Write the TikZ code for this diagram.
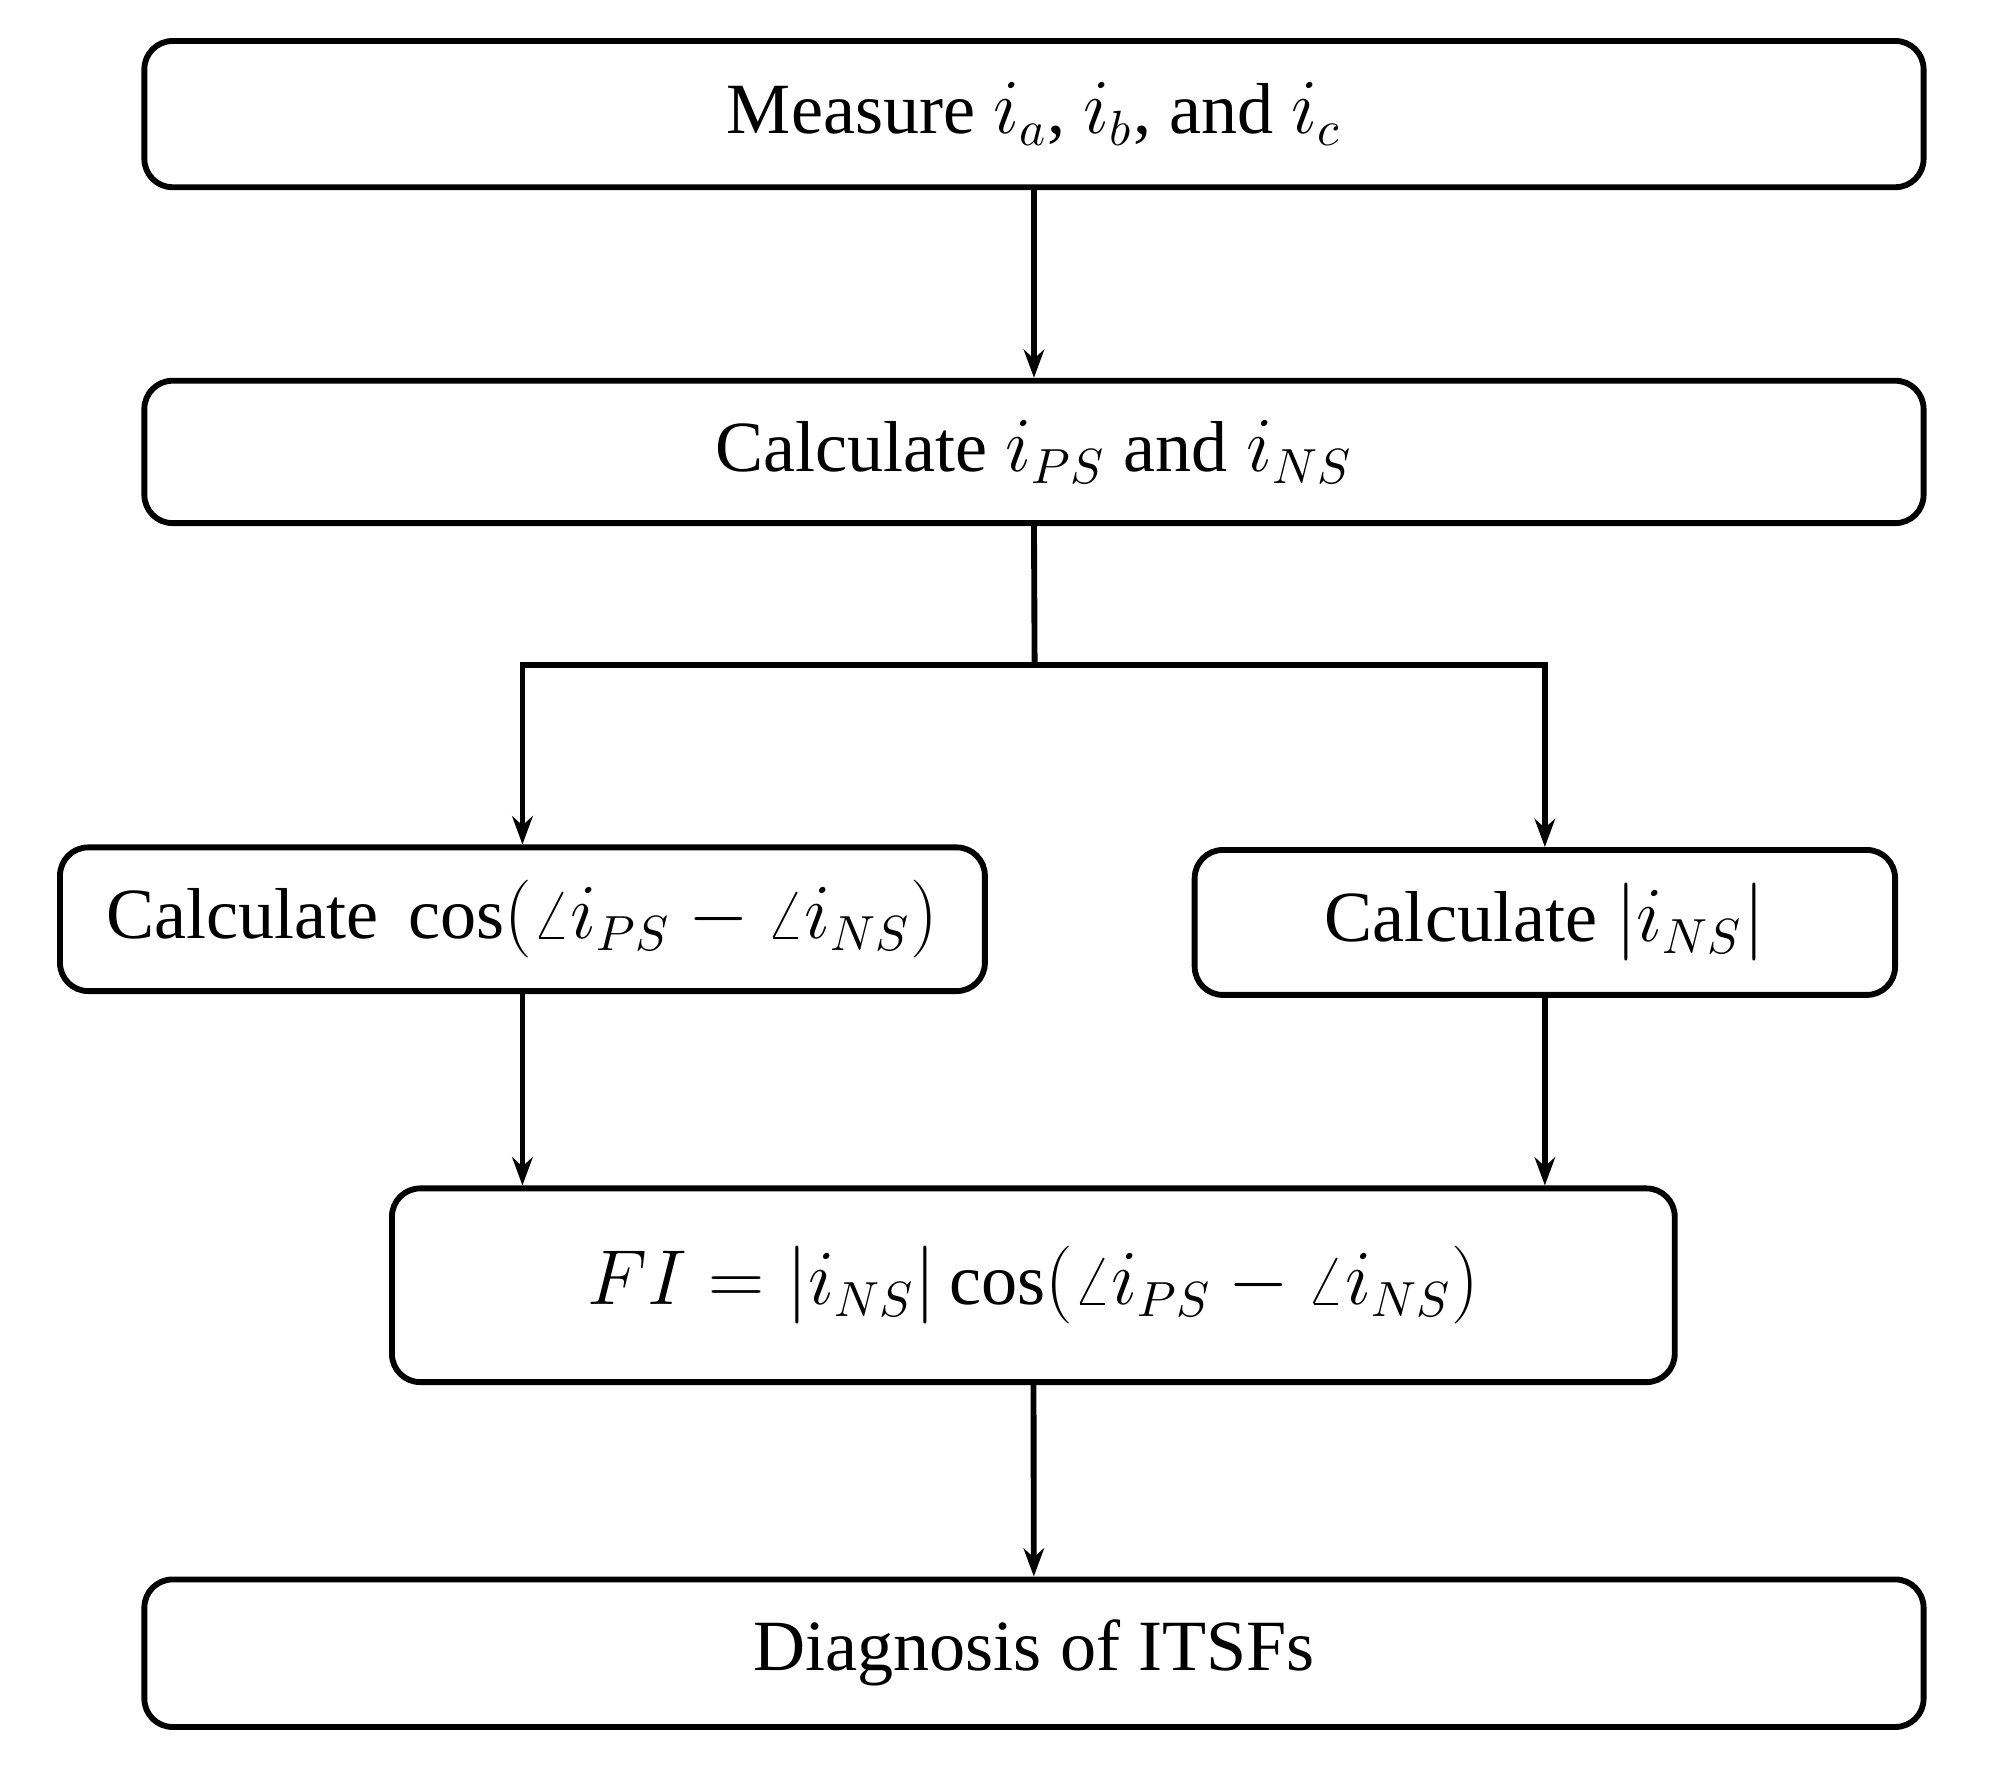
\documentclass[tikz,border=0pt]{standalone}
\usepackage{fontspec}
\setmainfont{Liberation Serif}
\usetikzlibrary{arrows.meta}
\begin{document}
\begin{tikzpicture}[x=0.01cm,y=-0.01cm,
  box/.style={draw,line width=1.3pt,rounded corners=0.22cm,inner sep=0pt,font=\fontsize{16}{19}\selectfont},
  arr/.style={line width=1.3pt,-{Stealth[length=0.22cm,width=0.16cm]}}]
\useasboundingbox (0,0) rectangle (1560,1376);
\node[box,minimum width=13.87cm,minimum height=1.14cm] (m) at (806.5,89) {Measure $i_a$, $i_b$, and $i_c$};
\node[box,minimum width=13.87cm,minimum height=1.11cm] (c) at (806.5,352.5) {Calculate $i_{PS}$ and $i_{NS}$};
\node[box,minimum width=7.21cm,minimum height=1.12cm] (l) at (407.5,717) {Calculate\, $\cos(\angle i_{PS}-\angle i_{NS})$};
\node[box,minimum width=5.46cm,minimum height=1.13cm] (r) at (1205,719.5) {Calculate $|i_{NS}|$};
\node[box,minimum width=10.0cm,minimum height=1.51cm] (f) at (806,1002.5) {$FI=|i_{NS}|\cos(\angle i_{PS}-\angle i_{NS})$};
\node[box,minimum width=13.87cm,minimum height=1.15cm] (d) at (806.5,1289.5) {Diagnosis of ITSFs};
\coordinate (j) at (807,519);
\draw[arr] (m) -- (c);
\draw[line width=1.3pt] (c.south) -- (j);
\draw[arr,rounded corners=0pt] (j) -| (l.north);
\draw[arr,rounded corners=0pt] (j) -| (r.north);
\draw[arr] (l.south) -- (l.south |- f.north);
\draw[arr] (r.south) -- (r.south |- f.north);
\draw[arr] (f) -- (d);
\end{tikzpicture}
\end{document}
